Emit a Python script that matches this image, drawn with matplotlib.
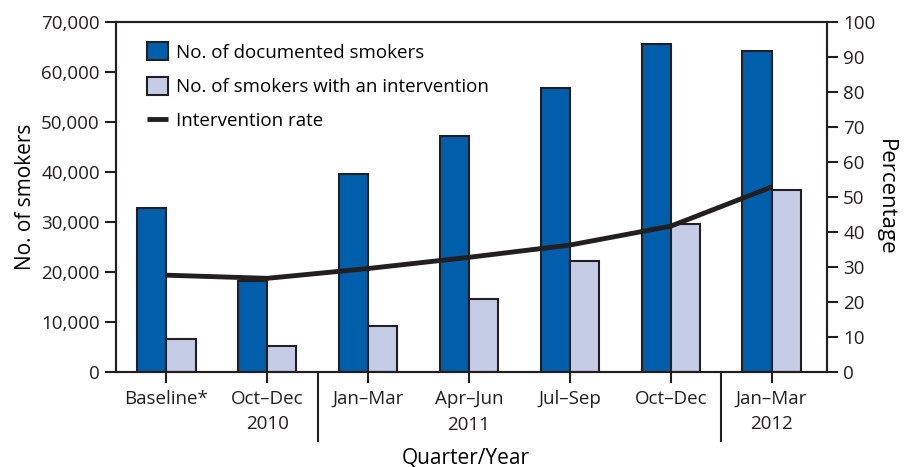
import numpy as np
import matplotlib.pyplot as plt

quarters = ['Baseline*', 'Oct–Dec\n2010', 'Jan–Mar', 'Apr–Jun', 'Jul–Sep', 'Oct–Dec', 'Jan–Mar\n2012']
documented = [32800, 18300, 39600, 47300, 56700, 65500, 64100]
intervention = [6600, 5300, 9200, 14700, 22200, 29700, 36500]
rate = [27.7, 26.8, 29.6, 32.8, 36.3, 41.7, 52.9]

DARK = '#005EAA'
LIGHT = '#C5CDE6'
INK = '#231F20'

plt.rcParams['font.family'] = ['Open Sans', 'DejaVu Sans']
plt.rcParams['font.size'] = 13.5

fig, ax = plt.subplots(figsize=(9.05, 4.67), dpi=100)
fig.subplots_adjust(left=0.128, right=0.914, top=0.953, bottom=0.203)

x = np.arange(len(quarters))
w = 0.29
ax.bar(x - w / 2, documented, w, color=DARK, edgecolor=INK, linewidth=1.5,
       label='No. of documented smokers', zorder=2)
ax.bar(x + w / 2, intervention, w, color=LIGHT, edgecolor=INK, linewidth=1.5,
       label='No. of smokers with an intervention', zorder=2)

ax.set_xlim(-0.5, 6.55)
ax.set_ylim(0, 70000)
ax.set_yticks(np.arange(0, 70001, 10000))
ax.set_yticklabels([f'{v:,}' for v in range(0, 70001, 10000)])
ax.set_xticks(x)
ax.set_xticklabels(quarters, linespacing=1.45)
ax.set_ylabel('No. of smokers', fontsize=15, labelpad=4)
ax.set_xlabel('Quarter/Year', fontsize=15)
ax.xaxis.set_label_coords(0.492, -0.215)

ax2 = ax.twinx()
ax2.plot(x, rate, color=INK, linewidth=3.5, label='Intervention rate', zorder=3,
         solid_capstyle='butt')
ax2.set_ylim(0, 100)
ax2.set_yticks(np.arange(0, 101, 10))
ax2.set_ylabel('Percentage', rotation=270, fontsize=16, labelpad=15)

for a in (ax, ax2):
    for s in a.spines.values():
        s.set_color(INK)
        s.set_linewidth(1.5)
    a.tick_params(colors=INK, width=1.5, length=8, labelsize=13.5)
ax.tick_params(axis='x', length=8, pad=5)

# year separators below the axis
for sep in (1.5, 5.5):
    ax.plot([sep, sep], [0, -0.197], transform=ax.get_xaxis_transform(),
            color=INK, linewidth=1.5, clip_on=False)
ax.text(3, -0.15, '2011', transform=ax.get_xaxis_transform(), ha='center',
        va='center', fontsize=13.5, color=INK)

h1, l1 = ax.get_legend_handles_labels()
h2, l2 = ax2.get_legend_handles_labels()
ax.legend(h1 + h2, l1 + l2, loc='upper left', bbox_to_anchor=(0.02, 0.99),
          frameon=False, fontsize=13.5, handlelength=1.1, handleheight=1.1,
          handletextpad=0.45, labelspacing=0.8)

fig.savefig('out.png', dpi=100)
